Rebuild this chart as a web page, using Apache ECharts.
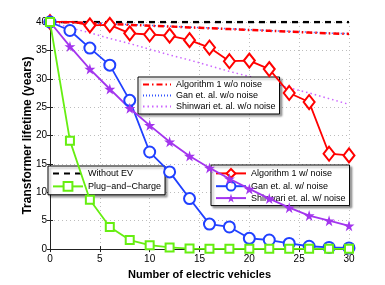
<!DOCTYPE html>
<html><head><meta charset="utf-8">
<script src="https://cdn.jsdelivr.net/npm/echarts@6/dist/echarts.min.js"></script>
<style>html,body{margin:0;padding:0;background:#fff}#c{width:385px;height:285px}</style>
</head><body><div id="c"></div>
<script>
var xs = [0,2,4,6,8,10,12,14,16,18,20,22,24,26,28,30];
var withoutEV = [40,40,40,40,40,40,40,40,40,40,40,40,40,40,40,40];
var alg1NoNoise = [40,39.95,39.8,39.65,39.5,39.35,39.2,39.05,38.9,38.75,38.6,38.45,38.3,38.15,38.0,37.9];
var ganNoNoise = [40,39.95,39.85,39.7,39.55,39.4,39.25,39.1,38.95,38.8,38.65,38.5,38.35,38.2,38.05,37.95];
var shinNoNoise = [40,39.0,38.1,37.1,36.2,35.2,34.2,33.3,32.3,31.3,30.4,29.4,28.4,27.5,26.5,25.5];
var plugAndCharge = [40,19.1,8.7,3.9,1.6,0.7,0.3,0.1,0.05,0.05,0.05,0.05,0.05,0.05,0.05,0.05];
var alg1Noise = [40,40.1,39.4,39.5,38.0,37.8,37.6,36.8,35.5,33.1,33.2,31.7,27.5,25.9,16.8,16.5];
var ganNoise = [40,38.5,35.4,32.4,26.2,17.1,13.6,8.9,4.4,3.9,1.9,1.6,1.0,0.5,0.3,0.2];
var shinNoise = [40,35.7,31.7,28.2,24.8,21.8,18.9,16.4,14.3,12.4,10.6,8.9,7.3,5.9,5.0,4.1];
var xTicks = [0,5,10,15,20,25,30];
var yTicks = [0,5,10,15,20,25,30,35,40];

function pairs(v){ return xs.map(function(x,i){ return [x, v[i]]; }); }
var star = 'path://M50,0 L61,35 L98,35 L68,57 L79,91 L50,70 L21,91 L32,57 L2,35 L39,35 Z';
var FONT = 'Liberation Sans, Arial, Helvetica, sans-serif';

var chart = echarts.init(document.getElementById('c'), null, {renderer:'canvas'});
var legendBase = {
  orient:'vertical', backgroundColor:'#fff', borderColor:'#000', borderWidth:1,
  shadowColor:'rgba(0,0,0,0.35)', shadowOffsetX:2, shadowOffsetY:2, shadowBlur:2,
  itemWidth:28, itemHeight:11, itemGap:2, padding:[3,4,3,4],
  textStyle:{fontFamily:FONT, fontSize:9, color:'#000'}, selectedMode:false
};
function leg(o){ return Object.assign({}, legendBase, o); }
function noSym(n){ return {name:n, itemStyle:{opacity:0}}; }

chart.setOption({
  animation:false,
  backgroundColor:'#fff',
  grid:{left:50, top:22, width:299, height:231, containLabel:false},
  xAxis:[{
    type:'value', min:0, max:30, interval:5,
    name:'Number of electric vehicles', nameLocation:'middle', nameGap:15,
    nameTextStyle:{fontFamily:FONT, fontSize:11, fontWeight:'bold', color:'#000'},
    axisLine:{show:true, lineStyle:{color:'#222', width:1}},
    axisTick:{show:true, inside:true, length:3, lineStyle:{color:'#222'}},
    axisLabel:{fontFamily:FONT, fontSize:10, color:'#000', margin:5,
      formatter:function(v){ return xTicks.indexOf(v)>=0 ? String(v) : ''; }},
    splitLine:{show:true, lineStyle:{color:'#bdbdbd', type:[1,3], width:1}}
  },{
    type:'value', min:0, max:30, interval:5, position:'top',
    axisLine:{show:true, lineStyle:{color:'#222'}},
    axisTick:{show:true, inside:true, length:3, lineStyle:{color:'#222'}},
    axisLabel:{show:false}, splitLine:{show:false}
  }],
  yAxis:[{
    type:'value', min:0, max:40, interval:5,
    name:'Transformer lifetime (years)', nameLocation:'middle', nameGap:16, nameMoveOverlap:false,
    nameTextStyle:{fontFamily:FONT, fontSize:12, fontWeight:'bold', color:'#000'},
    axisLine:{show:true, lineStyle:{color:'#222', width:1}},
    axisTick:{show:true, inside:true, length:3, lineStyle:{color:'#222'}},
    axisLabel:{fontFamily:FONT, fontSize:10, color:'#000', margin:3,
      formatter:function(v){ return yTicks.indexOf(v)>=0 ? String(v) : ''; }},
    splitLine:{show:true, lineStyle:{color:'#bdbdbd', type:[1,3], width:1}}
  },{
    type:'value', min:0, max:40, interval:5, position:'right',
    axisLine:{show:true, lineStyle:{color:'#222'}},
    axisTick:{show:true, inside:true, length:3, lineStyle:{color:'#222'}},
    axisLabel:{show:false}, splitLine:{show:false}
  }],
  legend:[
    leg({left:138, top:77, data:[noSym('Algorithm 1 w/o noise'),noSym('Gan et. al. w/o noise'),noSym('Shinwari et. al. w/o noise')]}),
    leg({left:48, top:166, itemWidth:30, itemGap:3, data:[noSym('Without EV'),'Plug\u2212and\u2212Charge']}),
    leg({left:211, top:165, itemWidth:30, data:['Algorithm 1 w/ noise','Gan et. al. w/ noise','Shinwari et. al. w/ noise']})
  ],
  series:[
    {name:'Without EV', type:'line', data:pairs(withoutEV), symbol:'none',
      lineStyle:{color:'#000', width:2.5, type:[6,5]}, itemStyle:{color:'#000'}, z:3},
    {name:'Gan et. al. w/o noise', type:'line', data:pairs(ganNoNoise), symbol:'none',
      lineStyle:{color:'#3355ff', width:1.5, type:[1,2]}, itemStyle:{color:'#3355ff'}, z:3},
    {name:'Algorithm 1 w/o noise', type:'line', data:pairs(alg1NoNoise), symbol:'none',
      lineStyle:{color:'#ff0000', width:2.5, type:[6,3,1.5,3]}, itemStyle:{color:'#ff0000'}, z:3},
    {name:'Shinwari et. al. w/o noise', type:'line', data:pairs(shinNoNoise), symbol:'none',
      lineStyle:{color:'#cc66ff', width:1.5, type:[1.5,3]}, itemStyle:{color:'#cc66ff'}, z:3},
    {name:'Algorithm 1 w/ noise', type:'line', data:pairs(alg1Noise), symbol:'emptyDiamond', symbolSize:[11,14],
      lineStyle:{color:'#ff0000', width:1.8}, itemStyle:{color:'#ff0000', borderWidth:1.8}, z:4},
    {name:'Gan et. al. w/ noise', type:'line', data:pairs(ganNoise), symbol:'emptyCircle', symbolSize:11,
      lineStyle:{color:'#2040ff', width:1.8}, itemStyle:{color:'#2040ff', borderWidth:1.8}, z:4},
    {name:'Shinwari et. al. w/ noise', type:'line', data:pairs(shinNoise), symbol:star, symbolSize:11,
      lineStyle:{color:'#a335ee', width:1.8}, itemStyle:{color:'#a335ee'}, z:4},
    {name:'Plug\u2212and\u2212Charge', type:'line', data:pairs(plugAndCharge), symbol:'emptyRect', symbolSize:8,
      lineStyle:{color:'#66ee11', width:1.8}, itemStyle:{color:'#66ee11', borderWidth:1.8}, z:5}
  ]
});
</script></body></html>
